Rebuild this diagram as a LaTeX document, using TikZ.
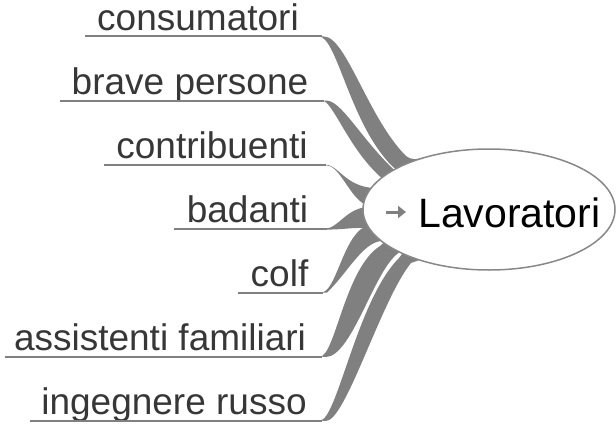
\documentclass[tikz,border=0pt]{standalone}
\usepackage{fontspec}
\setmainfont{Liberation Sans}
\usetikzlibrary{shapes.geometric,arrows.meta}
\definecolor{bandgray}{RGB}{128,128,128}
\definecolor{labelgray}{RGB}{55,55,55}
\definecolor{ringgray}{RGB}{136,136,136}
\tikzset{
  lbl/.style={anchor=base,inner sep=0pt,text=labelgray,font=\fontsize{37}{44}\selectfont},
  uline/.style={draw=bandgray,line width=2pt},
  band/.style={fill=bandgray,draw=none},
  hub/.style={ellipse,draw=ringgray,fill=white,line width=1.5pt,inner sep=0pt,minimum width=252pt,minimum height=121pt},
  hubtext/.style={anchor=base west,inner sep=0pt,text=black,font=\fontsize{41}{48}\selectfont},
  hubarrow/.style={draw=bandgray,line width=3pt,-{Triangle[length=8pt,width=12pt]}}
}
\begin{document}
\begin{tikzpicture}[x=1pt,y=-1pt]
\useasboundingbox (0,0) rectangle (616,428);
% label texts
\node[lbl] (t1) at (198,30.5) {consumatori};
\node[lbl] (t2) at (190,94.5) {brave persone};
\node[lbl] (t3) at (212,158.5) {contribuenti};
\node[lbl] (t4) at (247.5,222.5) {badanti};
\node[lbl] (t5) at (279.5,286.5) {colf};
\node[lbl] (t6) at (160,350.5) {assistenti familiari};
\node[lbl] (t7) at (174,414.5) {ingegnere russo};
% underline ends
\coordinate (a1) at (85,36.5);  \coordinate (b1) at (322,36.5);
\coordinate (a2) at (60,100.5); \coordinate (b2) at (324,100.5);
\coordinate (a3) at (104,164.5); \coordinate (b3) at (326,164.5);
\coordinate (a4) at (174,229); \coordinate (b4) at (327,229);
\coordinate (a5) at (238,292.5); \coordinate (b5) at (323,292.5);
\coordinate (a6) at (5,356.5); \coordinate (b6) at (322,356.5);
\coordinate (a7) at (30,420.5); \coordinate (b7) at (322,420.5);
\foreach \i in {1,...,7} { \draw[uline] (a\i) -- (b\i); }
% tapered branches
% consumatori
\fill[band] (319,36.5) .. controls (337,36.5) and (350,125) .. (393,167) -- (404,175)
  -- (432,162) -- (425,157) .. controls (417,160) and (411,160) .. (406,156)
  .. controls (368,118) and (346,36.5) .. (324,36.5) -- cycle;
% brave persone
\fill[band] (322,100.5) .. controls (333,100.5) and (349,151) .. (384,180) -- (392,184)
  -- (400,176) -- (391,167) .. controls (358,134) and (341,100.5) .. (326,100.5) -- cycle;
% contribuenti
\fill[band] (325,164.5) .. controls (338,164.5) and (345,186) .. (373,188) -- (382,190)
  -- (382,204) -- (366,205) .. controls (350,198) and (340,166) .. (327,165.5) -- cycle;
% badanti
\fill[band] (326,228.5) .. controls (338,228) and (345,210) .. (366,207) -- (374,207)
  -- (375,229) -- (368,228) .. controls (355,227) and (340,230) .. (326,229.5) -- cycle;
% colf
\fill[band] (321,292.5) .. controls (336,292.5) and (342,240) .. (364,227) -- (374,223)
  -- (387,238) -- (381,241) .. controls (362,243) and (346,275) .. (327,292.5) -- cycle;
% assistenti familiari
\fill[band] (320,356.5) .. controls (335,356.5) and (345,268) .. (380,246) -- (387,240)
  -- (405,247) -- (396,255) .. controls (373,275) and (351,356.5) .. (326,357) -- cycle;
% ingegnere russo
\fill[band] (320,420.5) .. controls (337,420.5) and (357,300) .. (399,258) -- (405,250)
  -- (431,256) -- (422,259) .. controls (417,261) and (414,262) .. (411,263)
  .. controls (381,300) and (346,420.5) .. (326,421) -- cycle;
% central node
\node[hub] (hub) at (489,209.5) {};
\node[hubtext] (lav) at (418,227) {Lavoratori};
\coordinate (arrS) at (386,212);
\coordinate (arrE) at (406,212);
\draw[hubarrow] (arrS) -- (arrE);
\end{tikzpicture}
\end{document}
